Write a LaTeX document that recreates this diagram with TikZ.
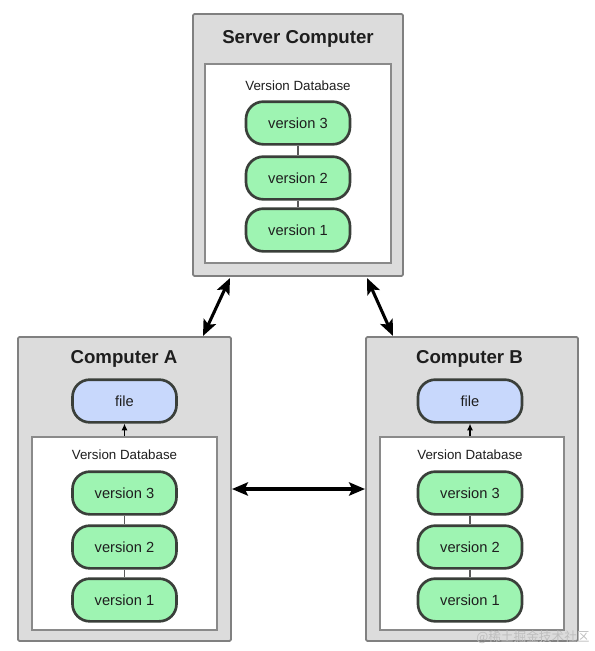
\documentclass[tikz,border=0pt]{standalone}
\usepackage{fontspec}
\setmainfont{Liberation Sans}
\newfontfamily\cjk{Noto Sans CJK SC}
\usetikzlibrary{arrows.meta,calc}
\definecolor{boxfill}{HTML}{DCDCDC}
\definecolor{boxline}{HTML}{808080}
\definecolor{innerline}{HTML}{8A8A8A}
\definecolor{pillgreen}{HTML}{9EF4B2}
\definecolor{pillblue}{HTML}{C8D8FC}
\definecolor{pillline}{HTML}{3A3F3A}
\definecolor{txt}{HTML}{1E1E1E}
\begin{document}
\begin{tikzpicture}[x=0.75pt,y=-0.75pt,
  outerbox/.style={draw=boxline,fill=boxfill,line width=1.4pt,rounded corners=1pt,inner sep=0pt},
  innerbox/.style={draw=innerline,fill=white,line width=1pt,inner sep=0pt},
  pill/.style={draw=pillline,line width=2pt,rounded corners=13pt,minimum width=78pt,minimum height=32pt,
    inner sep=0pt,font=\fontsize{11}{13}\selectfont,text=txt},
  vpill/.style={pill,fill=pillgreen},
  fpill/.style={pill,fill=pillblue},
  title/.style={font=\fontsize{14}{16}\selectfont\bfseries,text=txt},
  dblabel/.style={font=\fontsize{10}{12}\selectfont,text=txt},
  link/.style={draw=black!65,line width=0.9pt},
  bigarrow/.style={line width=2.3pt,{Stealth[length=12pt,width=10pt,inset=2.5pt]}-{Stealth[length=12pt,width=10pt,inset=2.5pt]}},
  smallarrow/.style={line width=0.8pt,-{Latex[length=5pt,width=4.5pt]}}
]
\useasboundingbox (0,0) rectangle (594,651);

% Server
\node[outerbox,minimum width=157.5pt,minimum height=196.5pt] (srv) at (298,145) {};
\node[title] (srvt) at (298,39) {Server Computer};
\node[innerbox,minimum width=139.5pt,minimum height=149.25pt] (srvdb) at (298,163.5) {};
\node[dblabel] (srvdbl) at (298,85.5) {Version Database};
\node[vpill] (s3) at (298,123) {version 3};
\node[vpill] (s2) at (298,178) {version 2};
\node[vpill] (s1) at (298,230) {version 1};
\draw[link] (s3) -- (s2);
\draw[link] (s2) -- (s1);

% Computer A
\node[outerbox,minimum width=159.75pt,minimum height=228pt] (ca) at (124.5,489) {};
\node[title] (cat) at (124,359) {Computer A};
\node[fpill] (fa) at (124.5,401) {file};
\node[innerbox,minimum width=138.75pt,minimum height=144.75pt] (cadb) at (124.5,533.5) {};
\node[dblabel] (cadbl) at (124.5,455) {Version Database};
\node[vpill] (a3) at (124.5,493) {version 3};
\node[vpill] (a2) at (124.5,547) {version 2};
\node[vpill] (a1) at (124.5,600) {version 1};
\draw[link] (a3) -- (a2);
\draw[link] (a2) -- (a1);
\draw[smallarrow] (cadb.north) -- (fa.south);

% Computer B
\node[outerbox,minimum width=159pt,minimum height=228pt] (cb) at (472,489) {};
\node[title] (cbt) at (469.5,359) {Computer B};
\node[fpill] (fb) at (470,401) {file};
\node[innerbox,minimum width=138pt,minimum height=144.75pt] (cbdb) at (472,533.5) {};
\node[dblabel] (cbdbl) at (470,455) {Version Database};
\node[vpill] (b3) at (470,493) {version 3};
\node[vpill] (b2) at (470,547) {version 2};
\node[vpill] (b1) at (470,600) {version 1};
\draw[link] (b3) -- (b2);
\draw[link] (b2) -- (b1);
\draw[smallarrow] (cbdb.north -| fb.south) -- (fb.south);

% arrows between computers
\coordinate (sa) at (230,278);
\coordinate (as) at (203,336);
\coordinate (sb) at (367,278);
\coordinate (bs) at (393,336);
\coordinate (ab) at (232,489);
\coordinate (ba) at (365,489);
\draw[bigarrow] (sa) -- (as);
\draw[bigarrow] (sb) -- (bs);
\draw[bigarrow] (ab) -- (ba);

% watermark
\node[font=\cjk\fontsize{9.5}{11}\selectfont,text=black!25] (wm) at (533,637) {@稀土掘金技术社区};
\end{tikzpicture}
\end{document}
